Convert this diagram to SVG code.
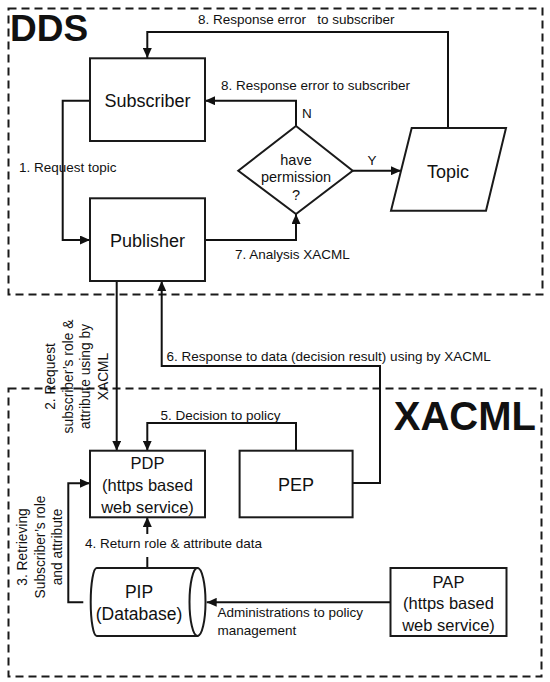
<svg xmlns="http://www.w3.org/2000/svg" width="550" height="682" viewBox="0 0 550 682">
<defs>
<style>
.frame{fill:none;stroke:#1a1a1a;stroke-width:2;stroke-dasharray:8 5}
.box{fill:#fff;stroke:#1a1a1a;stroke-width:2}
.ln{fill:none;stroke:#111;stroke-width:2}
.arr{marker-end:url(#ah)}
text{font-family:"Liberation Sans",Arial,sans-serif;fill:#111}
.nm{font-size:18px;text-anchor:middle}
.nm2{font-size:16.5px;text-anchor:middle}
.lb{font-size:13.5px}
.vl{font-size:13.8px;text-anchor:middle}
.big{font-weight:bold}
</style>
<marker id="ah" markerUnits="userSpaceOnUse" markerWidth="10" markerHeight="9" refX="10" refY="4.5" orient="auto">
<path d="M0,0 L10,4.5 L0,9 z" fill="#111"/>
</marker>
</defs>
<rect width="550" height="682" fill="#fff"/>

<g id="frames">
<rect class="frame" x="8.5" y="8.5" width="534" height="286"/>
<rect class="frame" x="8.5" y="388.5" width="533" height="288"/>
<text class="big" x="10" y="41" font-size="37">DDS</text>
<text class="big" x="536" y="430" font-size="40" text-anchor="end">XACML</text>
</g>

<g id="connectors">
<path class="ln arr" d="M448,128 V32 H147.3 V58"/>
<path class="ln arr" d="M296,126 V100.7 H205"/>
<path class="ln arr" d="M352.7,170.7 H401"/>
<path class="ln arr" d="M90,100.7 H62.7 V240 H90"/>
<path class="ln arr" d="M205,240 H296 V214"/>
<path class="ln arr" d="M116.7,281 V450.7"/>
<path class="ln arr" d="M353,483 H380 V366 H161.7 V281"/>
<path class="ln arr" d="M296,451 V423 H147.3 V450.7"/>
<path class="ln arr" d="M83.3,602.3 H68.3 V483.3 H90"/>
<path class="ln" d="M147.3,568 V557"/>
<path class="ln arr" d="M147.3,534 V517"/>
<path class="ln arr" d="M390.5,602.3 H206.7"/>
<text class="lb" x="198" y="24">8. Response error&#160;&#160; to subscriber</text>
<text class="lb" x="221" y="90">8. Response error to subscriber</text>
<text class="lb" x="302" y="118">N</text>
<text class="lb" x="372" y="165" text-anchor="middle">Y</text>
<text class="lb" x="19" y="172">1. Request topic</text>
<text class="lb" x="235" y="259">7. Analysis XACML</text>
<text class="lb" x="166.5" y="361">6. Response to data (decision result) using by XACML</text>
<text class="lb" x="160.5" y="419.5">5. Decision to policy</text>
<text class="lb" x="85" y="548">4. Return role &amp; attribute data</text>
<text class="lb" x="217.5" y="617">Administrations to policy</text>
<text class="lb" x="217.5" y="635">management</text>
<g class="vl">
<text transform="translate(55,376.5) rotate(-90)">2. Request</text>
<text transform="translate(72.7,376.5) rotate(-90)">subscriber’s role &amp;</text>
<text transform="translate(90.3,376.5) rotate(-90)">attribute using by</text>
<text transform="translate(108,376.5) rotate(-90)">XACML</text>
<text transform="translate(27,547) rotate(-90)">3. Retrieving</text>
<text transform="translate(44.5,547) rotate(-90)">Subscriber’s role</text>
<text transform="translate(62,547) rotate(-90)">and attribute</text>
</g>
</g>

<g id="subscriber">
<rect class="box" x="90" y="58.3" width="115" height="82.7"/>
<text class="nm" x="147.5" y="107">Subscriber</text>
</g>
<g id="publisher">
<rect class="box" x="90" y="198.3" width="115" height="82.7"/>
<text class="nm" x="147.5" y="246.5">Publisher</text>
</g>
<g id="permission">
<polygon class="box" points="296,126 352.7,170.7 296,214 238.3,170.7"/>
<text x="296" y="165" font-size="14.5" text-anchor="middle">have</text>
<text x="296" y="182" font-size="14.5" text-anchor="middle">permission</text>
<text x="296" y="200" font-size="14.5" text-anchor="middle">?</text>
</g>
<g id="topic">
<polygon class="box" points="411.7,128 506,128 486,210.7 391,210.7"/>
<text class="nm" x="448" y="178">Topic</text>
</g>
<g id="pdp">
<rect class="box" x="90" y="450.7" width="115" height="66.6"/>
<text class="nm2" x="147.5" y="469.3">PDP</text>
<text class="nm2" x="147.5" y="491">(https based</text>
<text class="nm2" x="147.5" y="512.7">web service)</text>
</g>
<g id="pep">
<rect class="box" x="239.6" y="450.7" width="113" height="66.6"/>
<text class="nm" x="296" y="491">PEP</text>
</g>
<g id="pip">
<path class="box" d="M96.7,568 H197.5 V636 H96.7 A6,34 0 0 1 96.7,568 Z"/>
<ellipse class="box" cx="197.5" cy="602" rx="8" ry="34"/>
<text x="139" y="598" font-size="17.5" text-anchor="middle">PIP</text>
<text x="139" y="619.5" font-size="17.5" text-anchor="middle">(Database)</text>
</g>
<g id="pap">
<rect class="box" x="390.5" y="568" width="116" height="68"/>
<text class="nm2" x="448.5" y="587.5">PAP</text>
<text class="nm2" x="448.5" y="609">(https based</text>
<text class="nm2" x="448.5" y="631">web service)</text>
</g>
</svg>
